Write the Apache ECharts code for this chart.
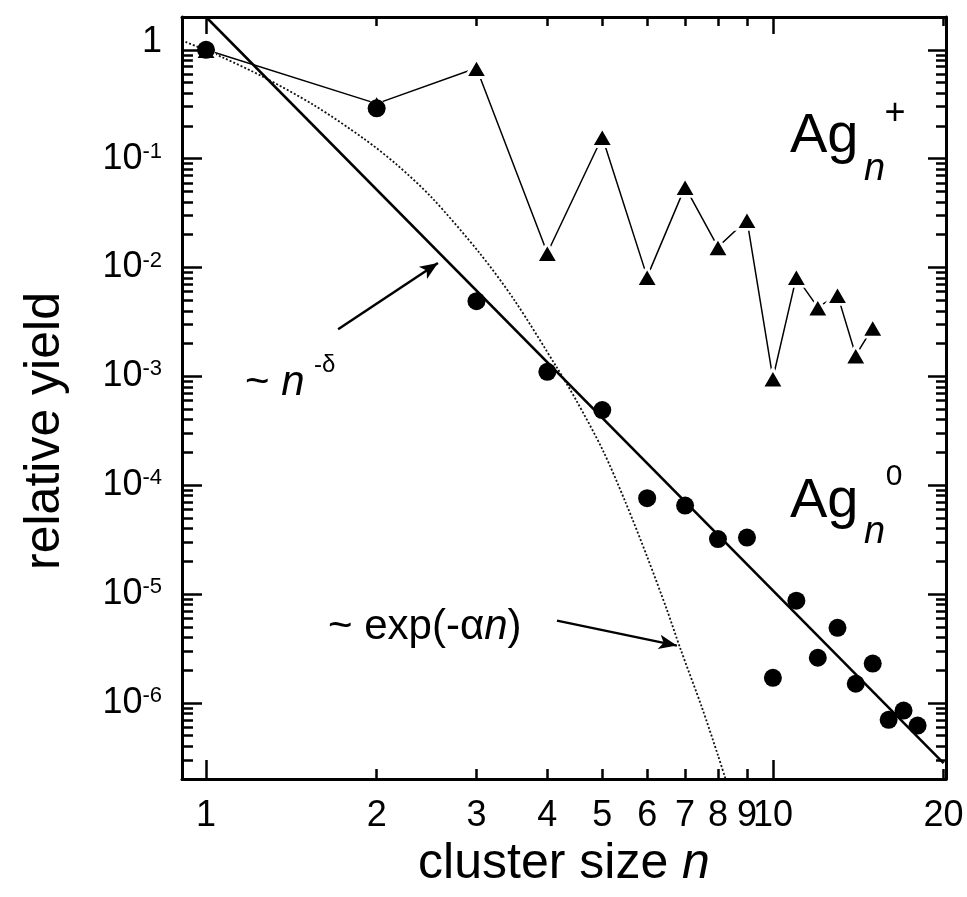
<!DOCTYPE html>
<html>
<head>
<meta charset="utf-8">
<script src="https://cdn.jsdelivr.net/npm/echarts@6/dist/echarts.min.js"></script>
<style>
  html, body { margin: 0; padding: 0; background: #fff; }
  #chart { width: 967px; height: 897px; }
</style>
</head>
<body>
<div id="chart"></div>
<script>
// cluster sizes and yields
const neutralSizes = [1, 2, 3, 4, 5, 6, 7, 8, 9, 10, 11, 12, 13, 14, 15, 16, 17, 18]
const neutralYield = [1.0, 0.29, 4.9e-3, 1.1e-3, 4.9e-4, 7.6e-5, 6.5e-5, 3.2e-5, 3.3e-5, 1.7e-6,
  8.7e-6, 2.6e-6, 4.9e-6, 1.5e-6, 2.3e-6, 7.0e-7, 8.5e-7, 6.2e-7]
const cationSizes = [1, 2, 3, 4, 5, 6, 7, 8, 9, 10, 11, 12, 13, 14, 15]
const cationYield = [1.0, 0.32, 0.68, 0.0136, 0.158, 8.2e-3, 0.055, 0.0154, 0.0274, 9.6e-4,
  8.2e-3, 4.3e-3, 5.6e-3, 1.56e-3, 2.8e-3]

// power law fit (straight line in log-log), two ends
const powerN = [1, 20]
const powerY = [2.0, 2.8e-7]

// exponential curve, points
const expN = [0.92, 1.07, 1.26, 1.55, 1.9, 2.17, 2.5, 3.04, 3.5, 4.16, 4.5, 5.01, 5.5, 6, 6.5, 6.86, 7.5, 8, 8.25]
const expY = [1.18, 0.85, 0.565, 0.31, 0.152, 0.088, 0.044, 0.0135, 5.0e-3, 1.2e-3, 6.0e-4, 2.1e-4,
  6.9e-5, 2.2e-5, 7.2e-6, 3.2e-6, 9.0e-7, 3.3e-7, 2.0e-7]

// annotation arrows [from, to] in data units
const arrowPower = [[1.71, 2.71e-3], [2.565, 0.011]]
const arrowExp = [[4.16, 5.7e-6], [6.77, 3.36e-6]]

// ticks
const xMajor = [1, 10]
const xMinor = [2, 3, 4, 5, 6, 7, 8, 9, 20]
const xLabels = [1, 2, 3, 4, 5, 6, 7, 8, 9, 10, 20]
const yMajor = [1e-6, 1e-5, 1e-4, 1e-3, 1e-2, 1e-1, 1]
const yMinor = []
for (let k = -7; k <= -1; k++) {
  for (let m = 2; m <= 9; m++) {
    let v = m * Math.pow(10, k)
    if (v >= 2e-7) yMinor.push(v)
  }
}

const xMin = 0.907, xMax = 20.2
const yMin = 2e-7, yMax = 2
const font = '"Liberation Sans", Arial, sans-serif'

const pair = (xs, ys) => xs.map((x, i) => [x, ys[i]])

function xAx (pos, ticks, len, line, labels) {
  return {
    type: 'log',
    min: xMin,
    max: xMax,
    position: pos,
    axisLine: {show: line, onZero: false, lineStyle: {color: '#000', width: 3}},
    axisTick: {show: true, inside: true, length: len, customValues: ticks, lineStyle: {color: '#000', width: 2.5}},
    axisLabel: labels ? {
      show: true,
      customValues: labels,
      margin: 19,
      color: '#000',
      fontSize: 36,
      fontFamily: font,
      formatter: v => String(Math.round(v))
    } : {show: false},
    splitLine: {show: false}
  }
}

function yAx (pos, ticks, len, line, labels) {
  return {
    type: 'log',
    min: yMin,
    max: yMax,
    position: pos,
    axisLine: {show: line, onZero: false, lineStyle: {color: '#000', width: 3}},
    axisTick: {show: true, inside: true, length: len, customValues: ticks, lineStyle: {color: '#000', width: 2.5}},
    axisLabel: labels ? {
      show: true,
      customValues: labels,
      margin: 20,
      color: '#000',
      fontSize: 36,
      fontFamily: font,
      formatter: v => {
        if (Math.abs(v - 1) < 1e-9) return '{one|1}'
        return '10{s|' + Math.round(Math.log10(v)) + '}'
      },
      rich: {
        one: {fontSize: 36, fontFamily: font, color: '#000', padding: [0, 0, 16, 0]},
        s: {fontSize: 22, fontFamily: font, color: '#000', verticalAlign: 'top', lineHeight: 22}
      }
    } : {show: false},
    splitLine: {show: false}
  }
}

const option = {
  animation: false,
  backgroundColor: '#fff',
  grid: {left: 182, top: 17, right: 21, bottom: 118, containLabel: false},
  xAxis: [
    Object.assign(xAx('bottom', xMajor, 19, true, xLabels), {
      name: 'cluster size {i|n}',
      nameLocation: 'middle',
      nameGap: 60,
      nameTextStyle: {
        color: '#000', fontSize: 50, fontFamily: font,
        rich: {i: {fontStyle: 'italic', fontSize: 50, fontFamily: font, color: '#000'}}
      }
    }),
    xAx('bottom', xMinor, 10, false, null),
    xAx('top', xMajor, 17, true, null),
    xAx('top', xMinor, 9, false, null)
  ],
  yAxis: [
    yAx('left', yMajor, 20, true, yMajor),
    yAx('left', yMinor, 11, false, null),
    yAx('right', yMajor, 18, true, null),
    yAx('right', yMinor, 10, false, null)
  ],
  series: [
    {
      type: 'line',
      data: pair(expN, expY),
      symbol: 'none',
      smooth: 0.3,
      lineStyle: {color: '#111', width: 1.8, type: [2, 2]},
      z: 2
    },
    {
      type: 'line',
      data: pair(powerN, powerY),
      symbol: 'none',
      lineStyle: {color: '#000', width: 2.5},
      z: 3,
      markLine: {
        silent: true,
        symbol: ['none', 'arrow'],
        symbolSize: [11, 18],
        label: {show: false},
        lineStyle: {color: '#000', width: 2.5, type: 'solid'},
        data: [
          [{coord: arrowPower[0]}, {coord: arrowPower[1]}],
          [{coord: arrowExp[0]}, {coord: arrowExp[1]}]
        ]
      }
    },
    {
      type: 'line',
      data: pair(cationSizes, cationYield),
      symbol: 'triangle',
      symbolSize: [22, 19],
      showAllSymbol: true,
      lineStyle: {color: '#000', width: 1.5},
      itemStyle: {color: '#000', borderColor: '#fff', borderWidth: 3},
      z: 4
    },
    {
      type: 'scatter',
      data: pair(neutralSizes, neutralYield),
      symbol: 'circle',
      symbolSize: 18,
      itemStyle: {color: '#000', opacity: 1},
      z: 5
    }
  ],
  graphic: [
    {type: 'text', x: 45, y: 431, rotation: Math.PI / 2,
      style: {text: 'relative yield', fontSize: 50, fontFamily: font, fill: '#000', align: 'center', verticalAlign: 'middle'}},
    // Ag_n^+
    {type: 'text', x: 790, y: 137, style: {text: 'Ag', fontSize: 56, fontFamily: font, fill: '#000', align: 'left', verticalAlign: 'middle'}},
    {type: 'text', x: 864, y: 169, style: {text: 'n', fontSize: 38, fontStyle: 'italic', fontFamily: font, fill: '#000', align: 'left', verticalAlign: 'middle'}},
    {type: 'text', x: 895, y: 114, style: {text: '+', fontSize: 36, fontFamily: font, fill: '#000', align: 'center', verticalAlign: 'middle'}},
    // Ag_n^0
    {type: 'text', x: 790, y: 502, style: {text: 'Ag', fontSize: 56, fontFamily: font, fill: '#000', align: 'left', verticalAlign: 'middle'}},
    {type: 'text', x: 864, y: 532, style: {text: 'n', fontSize: 38, fontStyle: 'italic', fontFamily: font, fill: '#000', align: 'left', verticalAlign: 'middle'}},
    {type: 'text', x: 894, y: 477, style: {text: '0', fontSize: 30, fontFamily: font, fill: '#000', align: 'center', verticalAlign: 'middle'}},
    // ~ n^-delta
    {type: 'text', x: 245, y: 383, style: {text: '~ {i|n}', fontSize: 42, fontFamily: font, fill: '#000', align: 'left', verticalAlign: 'middle',
      rich: {i: {fontSize: 42, fontStyle: 'italic', fontFamily: font, fill: '#000'}}}},
    {type: 'text', x: 314, y: 365, style: {text: '-δ', fontSize: 24, fontFamily: font, fill: '#000', align: 'left', verticalAlign: 'middle'}},
    // ~ exp(-alpha n)
    {type: 'text', x: 328, y: 627, style: {text: '~ exp(-α{i|n})', fontSize: 42, fontFamily: font, fill: '#000', align: 'left', verticalAlign: 'middle',
      rich: {i: {fontSize: 42, fontStyle: 'italic', fontFamily: font, fill: '#000'}}}}
  ]
}

echarts.init(document.getElementById('chart'), null, {renderer: 'canvas'}).setOption(option)
</script>
</body>
</html>
